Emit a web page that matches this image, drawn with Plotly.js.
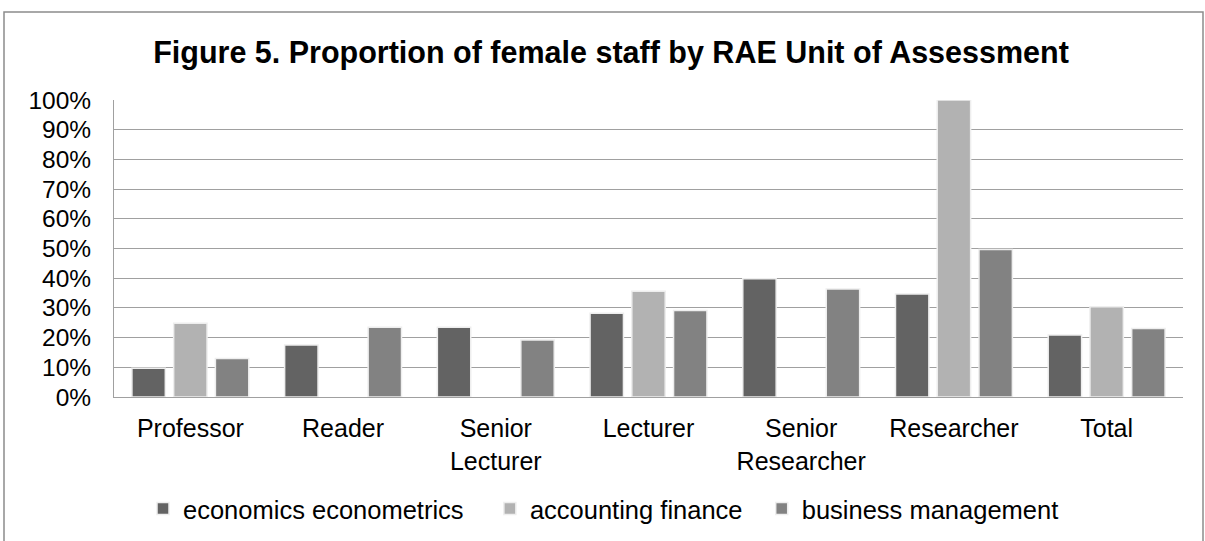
<!DOCTYPE html>
<html>
<head>
<meta charset="utf-8">
<script src="https://cdn.plot.ly/plotly-3.0.1.min.js"></script>
<style>html,body{margin:0;padding:0;background:#fff;}#chart{width:1205px;height:541px;}</style>
</head>
<body>
<div id="chart"></div>
<script>
const categories = ["Professor", "Reader", "Senior<br>Lecturer", "Lecturer", "Senior<br>Researcher", "Researcher", "Total"];
const economicsEconometrics = [0.097, 0.175, 0.235, 0.282, 0.398, 0.347, 0.209];
const accountingFinance = [0.248, null, null, 0.356, null, 1.0, 0.304];
const businessManagement = [0.130, 0.235, 0.192, 0.291, 0.364, 0.497, 0.231];
const seriesNames = ["economics econometrics", "accounting finance", "business management"];
const yTickVals = [0, 0.1, 0.2, 0.3, 0.4, 0.5, 0.6, 0.7, 0.8, 0.9, 1.0];

const colors = ["#636363", "#b2b2b2", "#828282"];
const legendPad = ["\u00a0\u00a0\u00a0", "\u00a0\u00a0", ""];
const seriesData = [economicsEconometrics, accountingFinance, businessManagement];

const traces = seriesData.map((vals, i) => ({
  type: "bar",
  name: seriesNames[i] + legendPad[i],
  x: categories,
  y: vals,
  marker: {color: colors[i], line: {color: "#eeeeee", width: 1.5}},
  hoverinfo: "x+y+name"
}));

const ml = 114, mr = 22, mt = 100, mb = 144;
const pw = 1205 - ml - mr, ph = 541 - mt - mb;
function px2x(px) { return (px - ml) / pw; }
function py2y(py) { return (541 - mb - py) / ph; }

const layout = {
  width: 1205,
  height: 541,
  margin: {l: ml, r: mr, t: mt, b: mb, autoexpand: false},
  paper_bgcolor: "#ffffff",
  plot_bgcolor: "#ffffff",
  font: {family: "Liberation Sans, Arial, sans-serif", color: "#000000", size: 24},
  title: {
    text: "<b>Figure 5. Proportion of female staff by RAE Unit of Assessment</b>",
    font: {family: "Liberation Sans, Arial, sans-serif", size: 30.5, color: "#000000"},
    x: 611 / 1205, xanchor: "center",
    y: 1 - 52 / 541, yanchor: "middle"
  },
  barmode: "group",
  bargap: 0.18,
  bargroupgap: 0.2,
  showlegend: true,
  legend: {
    orientation: "h",
    x: px2x(143), xanchor: "left",
    y: py2y(509), yanchor: "middle",
    font: {size: 25.5, color: "#000000"},
    itemwidth: 30,
    traceorder: "normal"
  },
  xaxis: {
    type: "category",
    showline: true,
    linecolor: "#a0a0a0",
    linewidth: 1,
    ticks: "",
    tickfont: {size: 25, color: "#000000"},
    ticklabelstandoff: 9,
    showgrid: false,
    fixedrange: true
  },
  yaxis: {
    range: [0, 1],
    tickvals: yTickVals,
    tickformat: ".0%",
    showgrid: true,
    gridcolor: "#a0a0a0",
    gridwidth: 1.2,
    showline: true,
    linecolor: "#a0a0a0",
    linewidth: 1,
    zeroline: false,
    ticks: "",
    tickfont: {size: 24.5, color: "#000000"},
    ticklabelstandoff: 17,
    fixedrange: true
  },
  shapes: [{
    type: "rect", xref: "paper", yref: "paper",
    x0: px2x(4), x1: px2x(1203), y0: py2y(560), y1: py2y(12),
    line: {color: "#8c8c8c", width: 1.5}, fillcolor: "rgba(0,0,0,0)", layer: "below"
  }]
};

Plotly.newPlot("chart", traces, layout, {displayModeBar: false, staticPlot: true});
</script>
</body>
</html>
